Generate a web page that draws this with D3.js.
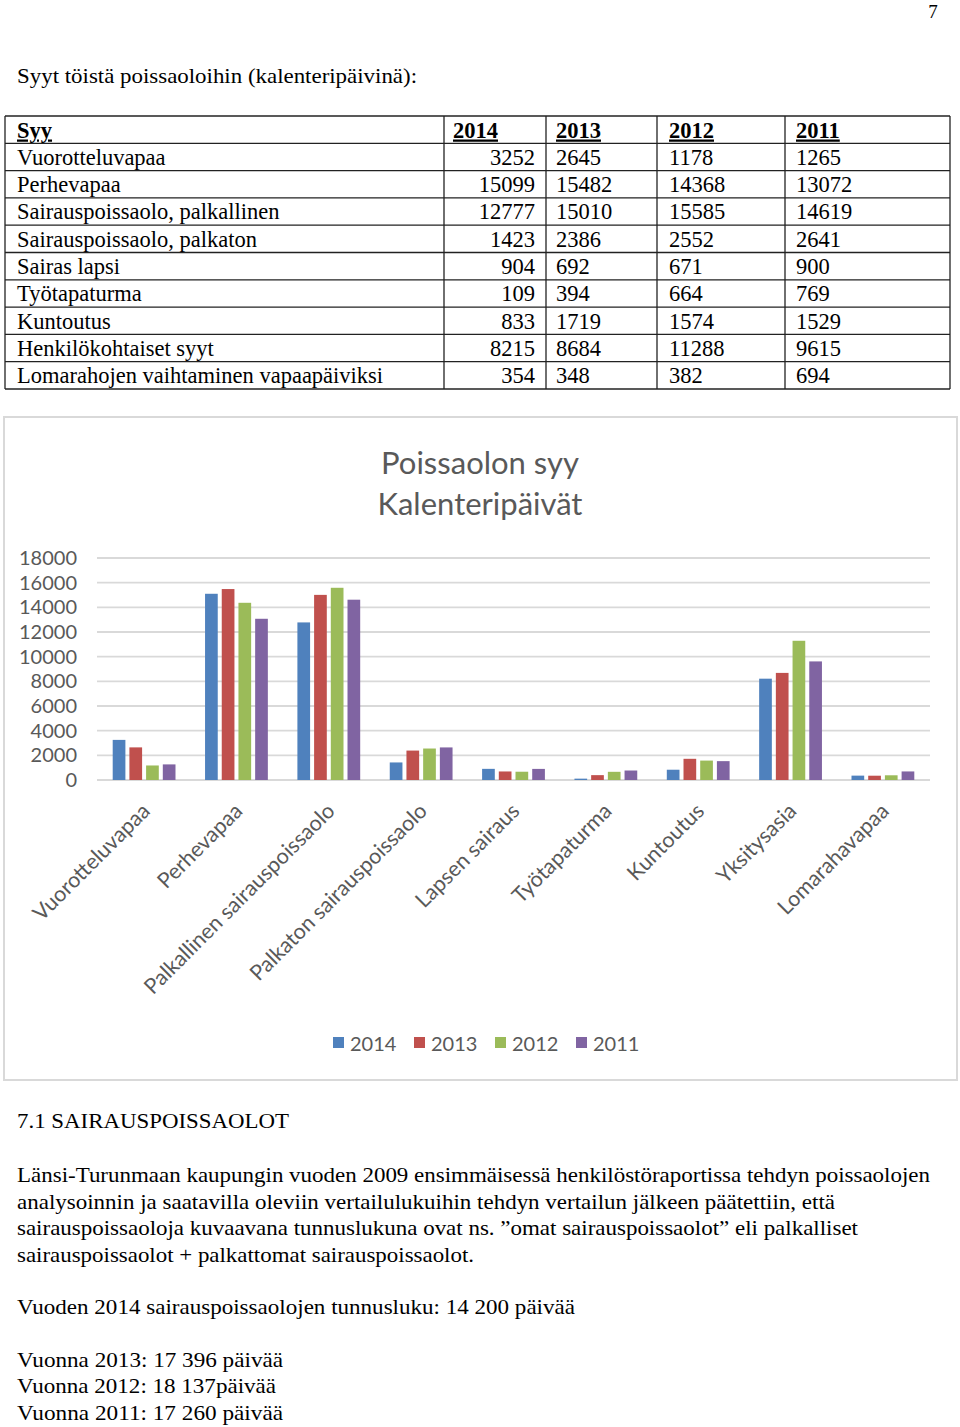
<!DOCTYPE html>
<html>
<head>
<meta charset="utf-8">
<script src="https://cdn.jsdelivr.net/npm/d3@7/dist/d3.min.js"></script>
<style>
html,body{margin:0;padding:0;background:#fff;}
svg{display:block;}
</style>
</head>
<body>
<svg id="page" width="960" height="1427"></svg>
<script>
// ---- data ----
const years = ["2014", "2013", "2012", "2011"];
const tableLabels = ["Vuorotteluvapaa", "Perhevapaa", "Sairauspoissaolo, palkallinen", "Sairauspoissaolo, palkaton", "Sairas lapsi", "Työtapaturma", "Kuntoutus", "Henkilökohtaiset syyt", "Lomarahojen vaihtaminen vapaapäiviksi"];
const categories = ["Vuorotteluvapaa", "Perhevapaa", "Palkallinen sairauspoissaolo", "Palkaton sairauspoissaolo", "Lapsen sairaus", "Työtapaturma", "Kuntoutus", "Yksitysasia", "Lomarahavapaa"];
const v2014 = [3252, 15099, 12777, 1423, 904, 109, 833, 8215, 354];
const v2013 = [2645, 15482, 15010, 2386, 692, 394, 1719, 8684, 348];
const v2012 = [1178, 14368, 15585, 2552, 671, 664, 1574, 11288, 382];
const v2011 = [1265, 13072, 14619, 2641, 900, 769, 1529, 9615, 694];
const series = [v2014, v2013, v2012, v2011];
const yTicks = [0, 2000, 4000, 6000, 8000, 10000, 12000, 14000, 16000, 18000];
const colors = ["#4f81bd", "#c0504d", "#9bbb59", "#8064a2"];

const svg = d3.select("#page");
const serif = "'Liberation Serif','Times New Roman',serif";
const sans = "Lato,'Open Sans',sans-serif";

// page number
svg.append("text").attr("x", 933).attr("y", 18).attr("font-family", serif).attr("font-size", 19).attr("text-anchor", "middle").text("7");

// intro line
svg.append("text").attr("x", 17).attr("y", 83).attr("font-family", serif).attr("font-size", 21)
  .attr("textLength", 400).attr("lengthAdjust", "spacingAndGlyphs").text("Syyt töistä poissaoloihin (kalenteripäivinä):");

// ---- table ----
const tTop = 116, rowH = 27.3, nRows = 10;
const colX = [5, 444, 546, 657, 785, 950];
const tfs = 22.5;
const tg = svg.append("g");
for (let i = 0; i <= nRows; i++) {
  tg.append("line").attr("x1", colX[0]).attr("x2", colX[5]).attr("y1", tTop + i * rowH).attr("y2", tTop + i * rowH)
    .attr("stroke", "#222").attr("stroke-width", 1.3);
}
colX.forEach(x => tg.append("line").attr("x1", x).attr("x2", x).attr("y1", tTop).attr("y2", tTop + nRows * rowH)
  .attr("stroke", "#222").attr("stroke-width", 1.3));
const hdr = ["Syy"].concat(years);
const hdrX = [17, 453, 556, 669, 796];
hdr.forEach((h, j) => tg.append("text").attr("x", hdrX[j]).attr("y", tTop + 21.5).attr("font-family", serif)
  .attr("font-size", tfs).attr("font-weight", "bold").attr("text-decoration", "underline").text(h));
tableLabels.forEach((lab, i) => {
  const y = tTop + (i + 1) * rowH + 21.5;
  tg.append("text").attr("x", 17).attr("y", y).attr("font-family", serif).attr("font-size", tfs).text(lab);
  series.forEach((s, j) => {
    const t = tg.append("text").attr("y", y).attr("font-family", serif).attr("font-size", tfs).text(s[i]);
    if (j === 0) t.attr("x", 535).attr("text-anchor", "end");
    else t.attr("x", hdrX[j + 1]);
  });
});

// ---- chart ----
svg.append("rect").attr("x", 4).attr("y", 417).attr("width", 953).attr("height", 663)
  .attr("fill", "#fff").attr("stroke", "#d9d9d9").attr("stroke-width", 2);
const grey = "#595959";
svg.append("text").attr("x", 480).attr("y", 474).attr("text-anchor", "middle").attr("font-family", sans)
  .attr("font-size", 31).attr("fill", grey).text("Poissaolon syy");
svg.append("text").attr("x", 480).attr("y", 515).attr("text-anchor", "middle").attr("font-family", sans)
  .attr("font-size", 31).attr("fill", grey).text("Kalenteripäivät");

const plotL = 97, plotR = 930, plotT = 558, plotB = 780;
const y = d3.scaleLinear().domain([0, 18000]).range([plotB, plotT]);
const x0 = d3.scaleBand().domain(categories).range([plotL, plotR]).paddingInner(0.32).paddingOuter(0.17);
const x1 = d3.scaleBand().domain(years).range([0, x0.bandwidth()]).paddingInner(0.24);

const grid = svg.append("g");
yTicks.forEach(t => grid.append("line").attr("x1", plotL).attr("x2", plotR).attr("y1", y(t)).attr("y2", y(t))
  .attr("stroke", "#d9d9d9").attr("stroke-width", 1.8));

const yAxis = svg.append("g").attr("transform", `translate(${plotL - 20},0)`)
  .call(d3.axisLeft(y).tickValues(yTicks).tickSize(0).tickPadding(0).tickFormat(d3.format("d")));
yAxis.select(".domain").remove();
yAxis.selectAll("text").attr("font-family", sans).attr("font-size", 20).attr("fill", grey);

const groups = svg.append("g").selectAll("g").data(categories).join("g")
  .attr("transform", d => `translate(${x0(d)},0)`);
groups.selectAll("rect").data((d, i) => years.map((yr, j) => ({yr, v: series[j][i], j}))).join("rect")
  .attr("x", d => x1(d.yr)).attr("width", x1.bandwidth())
  .attr("y", d => y(d.v)).attr("height", d => plotB - y(d.v))
  .attr("fill", d => colors[d.j]);

const xAxis = svg.append("g").attr("transform", `translate(0,${plotB})`)
  .call(d3.axisBottom(x0).tickSize(0).tickPadding(0));
xAxis.select(".domain").remove();
xAxis.selectAll("text").attr("font-family", sans).attr("font-size", 21.5).attr("fill", grey)
  .attr("text-anchor", "end").attr("dy", "0.35em")
  .attr("transform", "translate(2,27) rotate(-45)");

// legend
const leg = svg.append("g");
years.forEach((yr, j) => {
  const lx = 333 + j * 81;
  leg.append("rect").attr("x", lx).attr("y", 1037).attr("width", 11).attr("height", 11).attr("fill", colors[j]);
  leg.append("text").attr("x", lx + 17).attr("y", 1051).attr("font-family", sans).attr("font-size", 20)
    .attr("fill", grey).text(yr);
});

// ---- text below ----
const lines = [
  {t: "7.1 SAIRAUSPOISSAOLOT", y: 1128, w: 272},
  {t: "Länsi-Turunmaan kaupungin vuoden 2009 ensimmäisessä henkilöstöraportissa tehdyn poissaolojen", y: 1182, w: 913},
  {t: "analysoinnin ja saatavilla oleviin vertailulukuihin tehdyn vertailun jälkeen päätettiin, että", y: 1209, w: 818},
  {t: "sairauspoissaoloja kuvaavana tunnuslukuna ovat ns. ”omat sairauspoissaolot” eli palkalliset", y: 1235, w: 841},
  {t: "sairauspoissaolot + palkattomat sairauspoissaolot.", y: 1262, w: 457},
  {t: "Vuoden 2014 sairauspoissaolojen tunnusluku: 14 200 päivää", y: 1314, w: 558},
  {t: "Vuonna 2013: 17 396 päivää", y: 1367, w: 266},
  {t: "Vuonna 2012: 18 137päivää", y: 1393, w: 259},
  {t: "Vuonna 2011: 17 260 päivää", y: 1420, w: 266}
];
svg.append("g").selectAll("text").data(lines).join("text")
  .attr("x", 17).attr("y", d => d.y).attr("font-family", serif).attr("font-size", 21)
  .attr("textLength", d => d.w).attr("lengthAdjust", "spacingAndGlyphs").text(d => d.t);
</script>
</body>
</html>
